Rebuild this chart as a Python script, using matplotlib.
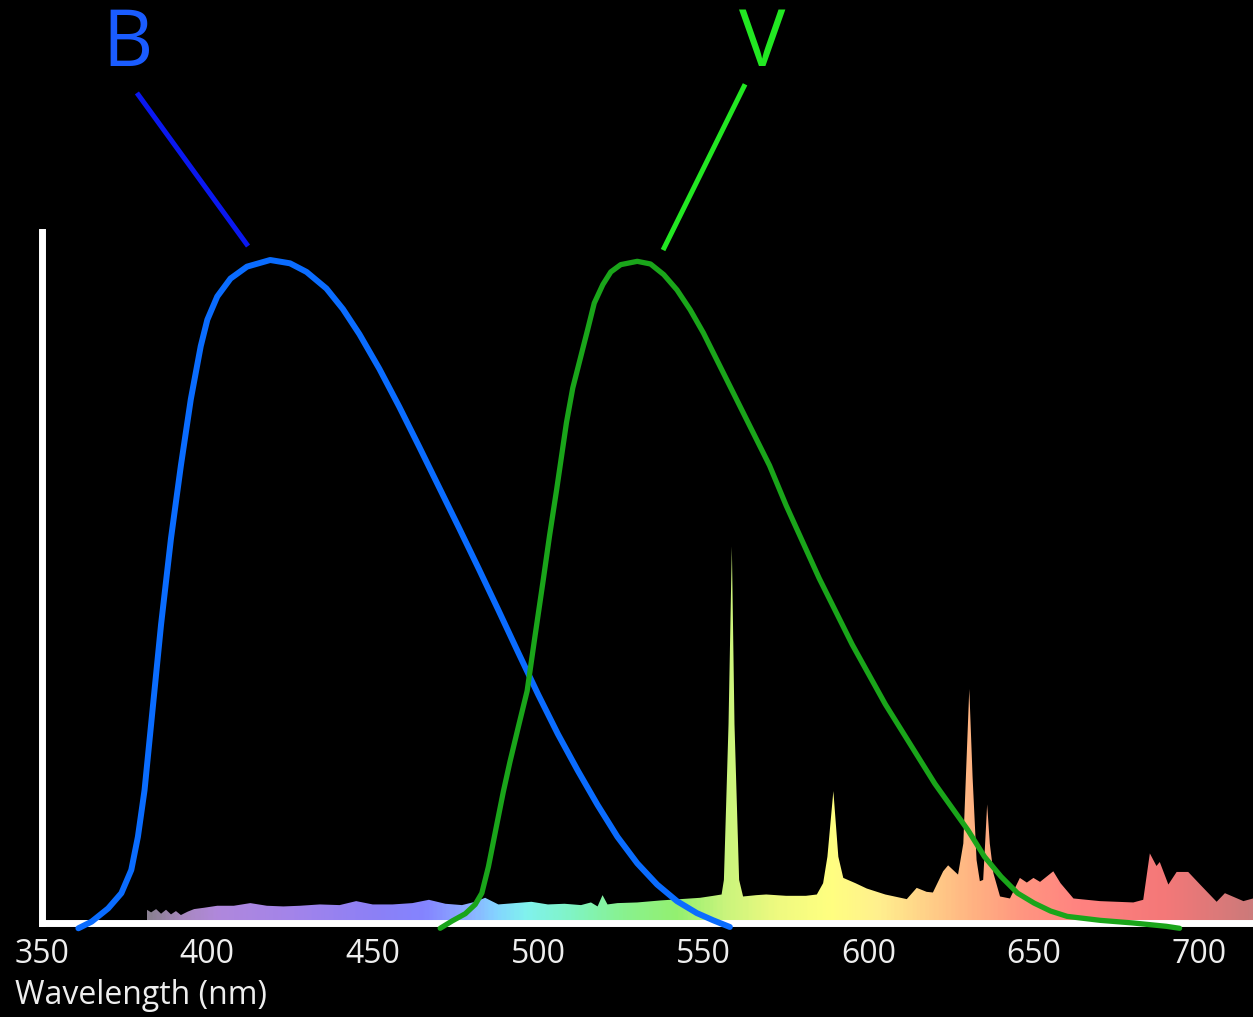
import numpy as np
import matplotlib
matplotlib.use("Agg")
import matplotlib.pyplot as plt
from matplotlib.colors import LinearSegmentedColormap

# B 필터 투과 곡선
b_nm = [361, 365, 370, 374, 377, 379, 381, 383, 386, 389, 392, 395, 398, 400, 403, 407,
        412, 419, 425, 430, 436, 441, 446, 452, 458, 464, 470, 476, 482, 488, 494, 500,
        506, 512, 518, 524, 530, 536, 542, 548, 553, 558]
b_val = [-0.008, 0.002, 0.022, 0.045, 0.08, 0.13, 0.20, 0.30, 0.45, 0.58, 0.69, 0.79, 0.87, 0.91, 0.945, 0.972,
         0.99, 1.0, 0.995, 0.982, 0.957, 0.926, 0.888, 0.836, 0.779, 0.719, 0.658, 0.597, 0.535, 0.472, 0.408, 0.345,
         0.285, 0.23, 0.178, 0.13, 0.09, 0.058, 0.033, 0.015, 0.004, -0.006]

# V 필터 투과 곡선
v_nm = [470.4, 474, 478, 481, 483, 485, 487.5, 489.5, 491.5, 494, 496.7, 499, 501.5, 503.5, 505.6, 508.6,
        510.5, 512.7, 515, 517, 519.6, 522, 525, 530, 534, 538, 542, 546, 550, 555, 560, 565,
        570, 575, 580, 585, 590, 595, 600, 605, 610, 615, 620, 625, 630, 635, 640, 645,
        650, 655, 660, 670, 680, 690, 694]
v_val = [-0.008, 0.003, 0.014, 0.028, 0.045, 0.085, 0.148, 0.198, 0.243, 0.295, 0.35, 0.43, 0.515, 0.585, 0.653, 0.755,
         0.807, 0.85, 0.895, 0.935, 0.963, 0.982, 0.993, 0.998, 0.994, 0.978, 0.955, 0.925, 0.89, 0.84, 0.79, 0.74,
         0.69, 0.63, 0.575, 0.52, 0.47, 0.42, 0.375, 0.33, 0.29, 0.25, 0.21, 0.175, 0.14, 0.10, 0.07, 0.045,
         0.03, 0.018, 0.01, 0.004, 0.0, -0.005, -0.008]

# 광원 스펙트럼 (형광등)
spec_nm = [381.7, 383, 384.5, 386, 387.5, 389, 390.5, 392, 394, 396, 399, 403, 408, 413, 418, 423,
           428, 434, 440, 445, 450, 456, 462, 467, 472, 477, 481, 484, 488, 493, 498, 503,
           508, 513, 516, 518, 519.5, 521, 524, 530, 537, 543, 549, 553, 555.5, 556.2, 557.6, 558.6,
           559.4, 560.8, 562, 566, 569, 575, 581, 584.3, 586.2, 587.5, 589.3, 590.8, 592.3, 596,
           599.4, 605, 611.5, 614.5, 617.5, 619.4, 622.5, 624, 627, 628.6, 629.6, 630.4, 631.4, 632.6,
           633.6, 634.6, 635.3, 635.8, 636.6, 637.7, 639.7, 642.7, 645.7, 647.8, 649.8, 651.8, 655.8, 658,
           661.9, 669.9, 680, 683, 685, 687, 688, 690.6, 693.1, 696.6, 700.2, 705.2, 707.7, 713.3, 716.2]
spec_val = [0.020, 0.016, 0.021, 0.014, 0.020, 0.013, 0.018, 0.012, 0.017, 0.021, 0.023, 0.026, 0.026, 0.030, 0.026, 0.025,
            0.026, 0.028, 0.027, 0.033, 0.028, 0.028, 0.030, 0.035, 0.029, 0.027, 0.032, 0.038, 0.028, 0.030, 0.032, 0.028,
            0.029, 0.027, 0.031, 0.025, 0.042, 0.028, 0.030, 0.031, 0.034, 0.036, 0.038, 0.041, 0.043, 0.065, 0.30, 0.568,
            0.30, 0.065, 0.040, 0.042, 0.043, 0.041, 0.041, 0.043, 0.060, 0.10, 0.199, 0.10, 0.068, 0.060,
            0.052, 0.043, 0.036, 0.053, 0.047, 0.046, 0.078, 0.087, 0.073, 0.12, 0.25, 0.353, 0.22, 0.095,
            0.063, 0.065, 0.13, 0.179, 0.12, 0.075, 0.040, 0.037, 0.068, 0.061, 0.068, 0.062, 0.078, 0.060,
            0.037, 0.033, 0.031, 0.035, 0.105, 0.086, 0.092, 0.058, 0.077, 0.077, 0.058, 0.032, 0.045, 0.033, 0.037]

# 스펙트럼 색 (파장별)
grad_nm = [381.7, 392, 402, 425, 450, 465, 478, 487, 496, 510, 525, 542, 556, 572, 588, 603, 618, 632, 648, 665, 690, 716.2]
grad_col = ["#8a8092", "#a888c0", "#b088dc", "#a384ea", "#8c80f6", "#8484ff", "#8cacff", "#84d4ff", "#80f2ee",
            "#80f4c4", "#88f290", "#94f070", "#c8f47c", "#eefa80", "#ffff80", "#fff08e", "#ffd088", "#ffb282",
            "#ff9480", "#ff8280", "#f47878", "#cc7a7a"]

xticks = [350, 400, 450, 500, 550, 600, 650, 700]

plt.rcParams['font.family'] = ['Open Sans', 'DejaVu Sans']

fig = plt.figure(figsize=(12.53, 10.17), dpi=100, facecolor='black')
ax = fig.add_axes([0, 0, 1, 1])
ax.set_facecolor('black')

# 그라데이션 채우기
cmap = LinearSegmentedColormap.from_list(
    'spec', [((n - grad_nm[0]) / (grad_nm[-1] - grad_nm[0]), c) for n, c in zip(grad_nm, grad_col)])
poly = ax.fill_between(spec_nm, spec_val, 0, color='none', lw=0)
grad = np.linspace(0, 1, 600).reshape(1, -1)
img = ax.imshow(grad, extent=[spec_nm[0], spec_nm[-1], 0, max(spec_val)], aspect='auto',
                cmap=cmap, origin='lower', interpolation='bilinear', zorder=1)
img.set_clip_path(poly.get_paths()[0], transform=ax.transData)

ax.plot(b_nm, b_val, color='#0a6cff', lw=4.3, solid_capstyle='round', zorder=3)
ax.plot(v_nm, v_val, color='#1aa51a', lw=3.8, solid_capstyle='round', zorder=3)

# 라벨 + 지시선
ax.text(376, 1.324, 'B', color='#1a5cff', fontsize=56, ha='center', va='center')
ax.plot([378.7, 412.3], [1.252, 1.021], color='#0a18f0', lw=3.6, solid_capstyle='butt')
ax.text(567.7, 1.324, 'V', color='#22e822', fontsize=56, ha='center', va='center')
ax.plot([562.6, 537.8], [1.265, 1.015], color='#22e822', lw=3.6, solid_capstyle='butt')

x_per_px = 3.307
y_per_px = 663.0
ax.set_xlim(350 - 42 / x_per_px, 350 + (1253 - 42) / x_per_px)
ax.set_ylim(-(1017 - 923) / y_per_px, 923 / y_per_px)

for s in ['top', 'right']:
    ax.spines[s].set_visible(False)
ax.spines['left'].set_position(('data', 350))
ax.spines['left'].set_bounds(0, 1.042)
ax.spines['bottom'].set_position(('data', 0))
ax.spines['bottom'].set_bounds(350, 716.2)
for s in ['left', 'bottom']:
    ax.spines[s].set_color('white')
    ax.spines[s].set_linewidth(5)
    ax.spines[s].set_zorder(2)

ax.set_yticks([])
ax.set_xticks(xticks)
ax.tick_params(axis='x', length=0, pad=11, labelsize=23, labelcolor='#eeeeee')

fig.text(15 / 1253, 1 - 995 / 1017, 'Wavelength (nm)', color='#eeeeee', fontsize=23, ha='left', va='center')

fig.savefig('out.png', dpi=100, facecolor='black')
